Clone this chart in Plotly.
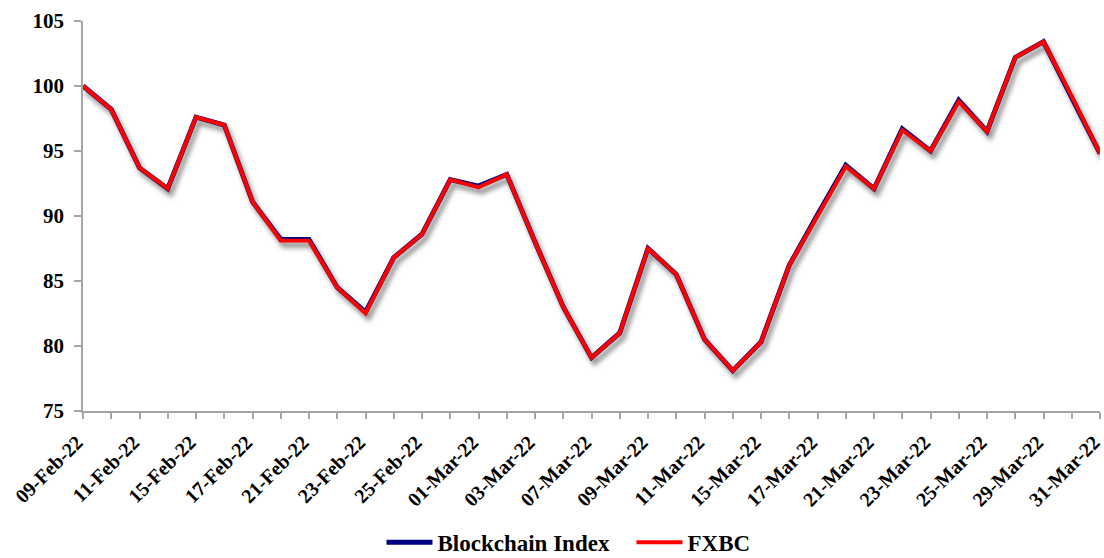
import plotly.graph_objects as go

# Trading days shown on the category axis
dates = [
    "09-Feb-22", "10-Feb-22", "11-Feb-22", "14-Feb-22", "15-Feb-22", "16-Feb-22",
    "17-Feb-22", "18-Feb-22", "21-Feb-22", "22-Feb-22", "23-Feb-22", "24-Feb-22",
    "25-Feb-22", "28-Feb-22", "01-Mar-22", "02-Mar-22", "03-Mar-22", "04-Mar-22",
    "07-Mar-22", "08-Mar-22", "09-Mar-22", "10-Mar-22", "11-Mar-22", "14-Mar-22",
    "15-Mar-22", "16-Mar-22", "17-Mar-22", "18-Mar-22", "21-Mar-22", "22-Mar-22",
    "23-Mar-22", "24-Mar-22", "25-Mar-22", "28-Mar-22", "29-Mar-22", "30-Mar-22",
    "31-Mar-22",
]

# Rebased levels (09-Feb-22 = 100)
blockchain_index = [
    100.0, 98.2, 93.7, 92.1, 97.6, 97.0, 91.1, 88.2, 88.2, 84.5, 82.6, 86.8,
    88.6, 92.8, 92.3, 93.2, 88.0, 83.0, 79.1, 81.0, 87.5, 85.5, 80.5, 78.1,
    80.3, 86.2, 90.1, 93.9, 92.1, 96.7, 95.0, 98.9, 96.5, 102.2, 103.4, 99.2,
    94.8,
]
fxbc = [
    100.0, 98.2, 93.7, 92.1, 97.6, 97.0, 91.1, 88.1, 88.1, 84.5, 82.5, 86.8,
    88.6, 92.8, 92.2, 93.2, 88.0, 83.0, 79.1, 81.0, 87.5, 85.5, 80.5, 78.1,
    80.3, 86.2, 90.0, 93.8, 92.1, 96.6, 95.0, 98.8, 96.5, 102.2, 103.4, 99.2,
    94.8,
]

y_ticks = [75, 80, 85, 90, 95, 100, 105]

# Only every other date carries a label; every date keeps a tick mark
tick_text = [d if i % 2 == 0 else "" for i, d in enumerate(dates)]

SERIF = "Liberation Serif"
AXIS_GREY = "#a6a6a6"

fig = go.Figure()
fig.add_trace(go.Scatter(
    x=dates, y=blockchain_index, name="Blockchain Index", mode="lines",
    line=dict(color="#000080", width=5),
))
fig.add_trace(go.Scatter(
    x=dates, y=fxbc, name="FXBC", mode="lines",
    line=dict(color="#ff0000", width=4),
))

fig.update_layout(
    width=1104, height=558,
    margin=dict(l=83, r=4, t=21, b=147),
    paper_bgcolor="white", plot_bgcolor="white",
    showlegend=True,
    legend=dict(
        orientation="h", xref="container", yref="container",
        x=0.572, xanchor="center", y=0.028, yanchor="middle",
        font=dict(family=SERIF, size=23, color="#000000", weight="bold"),
        itemwidth=46, entrywidth=189, tracegroupgap=0,
    ),
    xaxis=dict(
        type="category", range=[0, len(dates) - 1], automargin=False,
        tickmode="array", tickvals=dates, ticktext=tick_text,
        tickangle=-45, ticks="outside", ticklen=6, tickcolor=AXIS_GREY, tickwidth=1.5,
        showline=True, linecolor=AXIS_GREY, linewidth=1.5,
        showgrid=False, zeroline=False, layer="below traces",
        ticklabelstandoff=4, ticklabelshift=-6,
        tickfont=dict(family=SERIF, size=20, color="#000000", weight="bold"),
    ),
    yaxis=dict(
        range=[75, 105], tickmode="array", tickvals=y_ticks, automargin=False,
        ticks="outside", ticklen=7, tickcolor=AXIS_GREY, tickwidth=1.5,
        showline=True, linecolor=AXIS_GREY, linewidth=1.5,
        showgrid=False, zeroline=False, layer="below traces",
        ticklabelstandoff=6,
        tickfont=dict(family=SERIF, size=21, color="#000000", weight="bold"),
    ),
)

# Soft grey drop shadow under the plotted lines
shadow_js = """
var gd = document.getElementById('{plot_id}');
function addShadow() {
  var svg = gd.querySelector('svg.main-svg');
  var ns = 'http://www.w3.org/2000/svg';
  if (!document.getElementById('lineshadow')) {
    var defs = svg.querySelector('defs');
    if (!defs) { defs = document.createElementNS(ns, 'defs'); svg.insertBefore(defs, svg.firstChild); }
    var f = document.createElementNS(ns, 'filter');
    f.setAttribute('id', 'lineshadow');
    f.setAttribute('x', '-5%'); f.setAttribute('y', '-5%');
    f.setAttribute('width', '110%'); f.setAttribute('height', '115%');
    var ds = document.createElementNS(ns, 'feDropShadow');
    ds.setAttribute('dx', '3'); ds.setAttribute('dy', '5');
    ds.setAttribute('stdDeviation', '2.4');
    ds.setAttribute('flood-color', '#7a7a7a');
    ds.setAttribute('flood-opacity', '0.85');
    f.appendChild(ds);
    defs.appendChild(f);
  }
  gd.querySelectorAll('.cartesianlayer .scatterlayer').forEach(function (g) {
    g.setAttribute('filter', 'url(#lineshadow)');
  });
}
addShadow();
gd.on('plotly_afterplot', addShadow);
"""

fig.write_html("out.html", post_script=shadow_js)
